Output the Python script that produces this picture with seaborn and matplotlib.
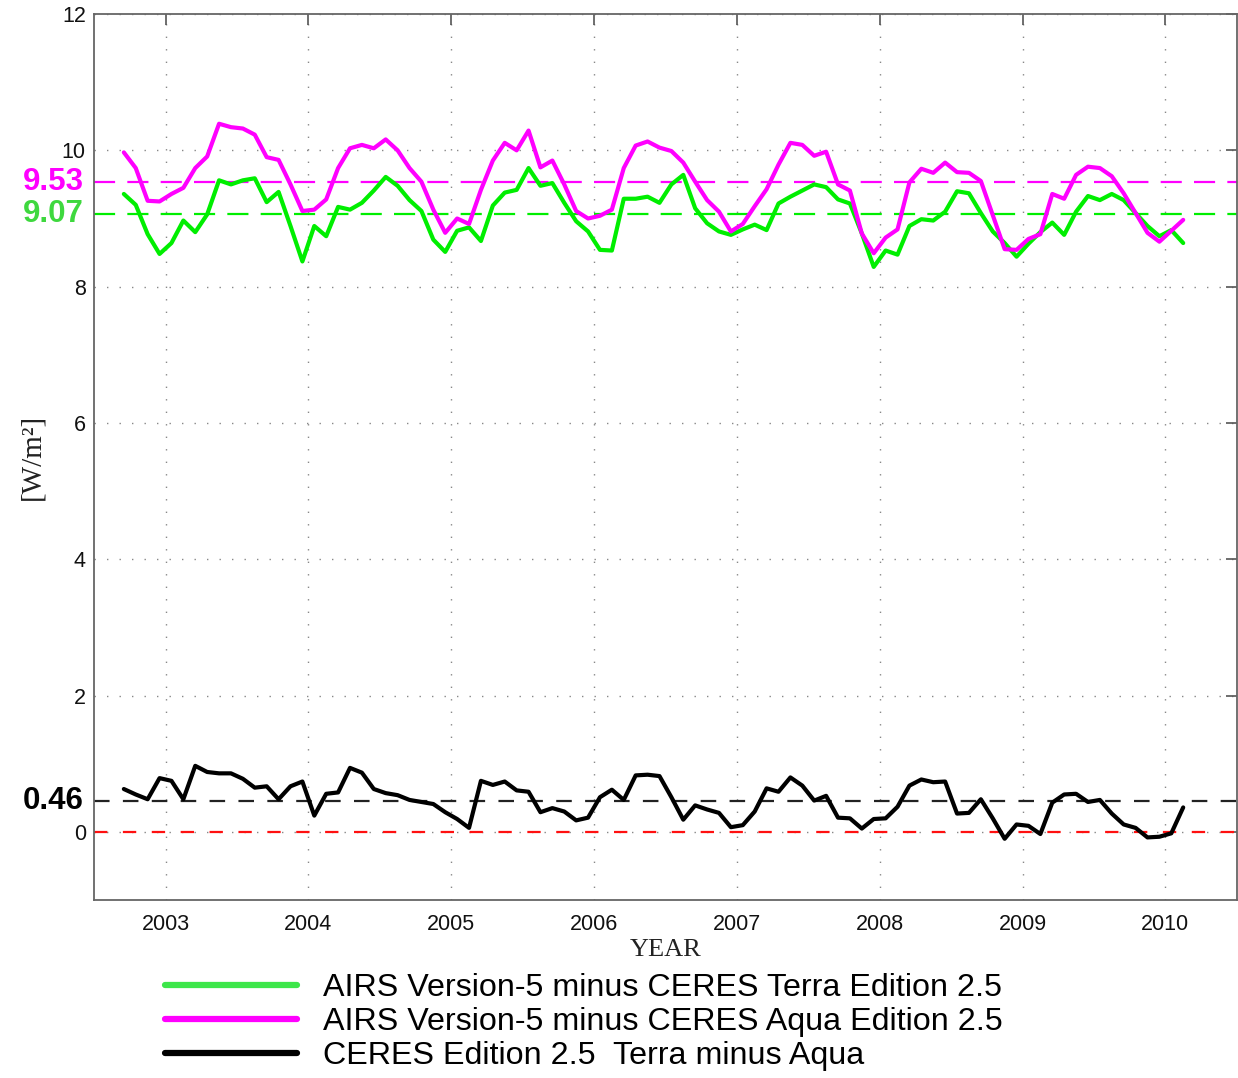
import numpy as np
import pandas as pd
import matplotlib
matplotlib.use("Agg")
import matplotlib.pyplot as plt
import matplotlib.transforms as mtransforms
import seaborn as sns

# monthly series, Sep 2002 .. Feb 2010
start_year, start_month, n_months = 2002, 9, 90

terra = [9.36, 9.20, 8.77, 8.48, 8.64, 8.97, 8.80, 9.06, 9.56, 9.50, 9.56, 9.59,
         9.24, 9.39, 8.89, 8.37, 8.89, 8.74, 9.17, 9.13, 9.23, 9.41, 9.61, 9.48,
         9.27, 9.11, 8.69, 8.51, 8.82, 8.87, 8.67, 9.19, 9.38, 9.42, 9.74, 9.48,
         9.52, 9.23, 8.96, 8.81, 8.54, 8.53, 9.29, 9.29, 9.32, 9.23,
         9.50, 9.64, 9.15, 8.93, 8.81, 8.76, 8.84, 8.91, 8.83, 9.22, 9.32, 9.41,
         9.50, 9.46, 9.28, 9.22, 8.78, 8.29, 8.53, 8.47, 8.89, 8.99, 8.97, 9.10,
         9.40, 9.37, 9.08, 8.81, 8.64, 8.44, 8.63, 8.80, 8.94, 8.76, 9.10, 9.33,
         9.27, 9.36, 9.27, 9.08, 8.89, 8.74, 8.83, 8.64]

aqua = [9.97, 9.74, 9.26, 9.25, 9.36, 9.45, 9.74, 9.91, 10.39, 10.34, 10.32, 10.23,
        9.90, 9.86, 9.50, 9.11, 9.13, 9.28, 9.74, 10.03, 10.08, 10.03, 10.16, 10.00,
        9.74, 9.54, 9.13, 8.79, 9.00, 8.92, 9.42, 9.85, 10.11, 10.00, 10.29, 9.75,
        9.85, 9.50, 9.11, 9.00, 9.04, 9.13, 9.74, 10.07, 10.13, 10.04,
        9.99, 9.82, 9.54, 9.27, 9.10, 8.81, 8.92, 9.18, 9.43, 9.79, 10.11, 10.08,
        9.92, 9.98, 9.50, 9.41, 8.78, 8.49, 8.72, 8.84, 9.53, 9.73, 9.67, 9.82,
        9.68, 9.67, 9.55, 9.05, 8.55, 8.54, 8.70, 8.77, 9.36, 9.29, 9.64, 9.76,
        9.74, 9.62, 9.37, 9.08, 8.79, 8.66, 8.82, 8.98]

terra_minus_aqua = [0.63, 0.55, 0.48, 0.79, 0.75, 0.48, 0.97, 0.88, 0.86, 0.86, 0.78, 0.65,
                    0.67, 0.48, 0.67, 0.74, 0.24, 0.56, 0.58, 0.94, 0.87, 0.63, 0.57, 0.54,
                    0.47, 0.44, 0.41, 0.29, 0.19, 0.06, 0.75, 0.69, 0.74, 0.61, 0.59, 0.29,
                    0.35, 0.30, 0.17, 0.21, 0.51, 0.62, 0.47, 0.83, 0.84, 0.82,
                    0.51, 0.18, 0.39, 0.33, 0.28, 0.07, 0.10, 0.30, 0.64, 0.59, 0.80, 0.68,
                    0.46, 0.53, 0.21, 0.20, 0.05, 0.19, 0.20, 0.37, 0.68, 0.77, 0.73, 0.74,
                    0.27, 0.28, 0.48, 0.20, -0.10, 0.11, 0.09, -0.03, 0.43, 0.55, 0.56, 0.44,
                    0.47, 0.27, 0.11, 0.06, -0.08, -0.07, -0.02, 0.36]

mean_terra = 9.07
mean_aqua = 9.53
mean_diff = 0.46

labels = ["AIRS Version-5 minus CERES Terra Edition 2.5",
          "AIRS Version-5 minus CERES Aqua Edition 2.5",
          "CERES Edition 2.5  Terra minus Aqua"]
year_ticks = list(range(2003, 2011))
y_ticks = [0, 2, 4, 6, 8, 10, 12]

# decimal year at mid-month
months = pd.date_range(f"{start_year}-{start_month:02d}-01", periods=n_months, freq="MS")
df = pd.DataFrame({
    "year": months.year + (months.month - 0.5) / 12.0,
    "terra": terra,
    "aqua": aqua,
    "diff": terra_minus_aqua,
})

sns.set_style("white")
plt.rcParams["font.family"] = ["Liberation Sans", "DejaVu Sans"]
plt.rcParams["text.color"] = "black"

fig = plt.figure(figsize=(12.38, 10.78), dpi=100)
ax = fig.add_axes([0.076, 0.165, 0.923, 0.822])

grid_kw = dict(color="#888888", lw=1.0, ls=(0, (1, 8)), zorder=0)
for yr in year_ticks:
    ax.axvline(yr, **grid_kw)
for yv in y_ticks:
    ax.axhline(yv, **grid_kw)

# reference lines
ax.axhline(mean_aqua, color="#ff00ff", lw=1.6, ls=(0, (9.5, 5.5)), zorder=1)
ax.axhline(mean_terra, color="#00ee00", lw=1.6, ls=(0, (9.5, 5.5)), zorder=1)
ax.axhline(mean_diff, color="#222222", lw=1.6, ls=(0, (7, 6)), zorder=1)
ax.axhline(0, color="#ff1010", lw=1.6, ls=(0, (6, 7)), zorder=1)

sns.lineplot(data=df, x="year", y="terra", color="#00ee00", lw=3, label=labels[0], ax=ax, zorder=3)
sns.lineplot(data=df, x="year", y="aqua", color="#ff00ff", lw=3, label=labels[1], ax=ax, zorder=3)
sns.lineplot(data=df, x="year", y="diff", color="black", lw=3, label=labels[2], ax=ax, zorder=3)

ax.set_xlim(2002.5, 2010.5)
ax.set_ylim(-1, 12)
ax.set_xticks(year_ticks)
ax.set_xticklabels([str(y) for y in year_ticks])
ax.set_yticks(y_ticks)
ax.set_yticklabels([str(y) for y in y_ticks])
ax.tick_params(direction="in", length=8, width=1.2, color="#555555", labelsize=15.5,
               labelcolor="#111111", top=True, right=True)
ax.tick_params(axis="x", pad=10)
ax.tick_params(axis="y", pad=6)
for sp in ax.spines.values():
    sp.set_color("#666666")
    sp.set_linewidth(1.3)

ax.set_xlabel("YEAR", fontsize=19, color="#222222",
              family=["Liberation Serif", "DejaVu Serif"], labelpad=3)
ax.set_ylabel("[W/m²]", fontsize=21, color="#222222",
              family=["Liberation Serif", "DejaVu Serif"], labelpad=12)

# mean value labels on the left
trans = mtransforms.blended_transform_factory(ax.transAxes, ax.transData)
for val, col in [(mean_aqua, "#ff00ff"), (mean_terra, "#3ed83e"), (mean_diff, "black")]:
    ax.text(-0.009, val, f"{val:.2f}", transform=trans, ha="right", va="center",
            fontsize=22.5, fontweight="bold", color=col)

handles, labs = ax.get_legend_handles_labels()
ax.get_legend().remove()
leg = fig.legend(handles, labs, loc="upper left", bbox_to_anchor=(0.1203, 0.112),
                 frameon=False, fontsize=23.2, handlelength=4.1, handletextpad=0.8,
                 labelspacing=0.12, borderpad=0, labelcolor="black")
for line, col in zip(leg.get_lines(), ["#3de64a", "#ff00ff", "black"]):
    line.set_linewidth(4.5)
    line.set_color(col)

fig.savefig("out.png", dpi=100)
